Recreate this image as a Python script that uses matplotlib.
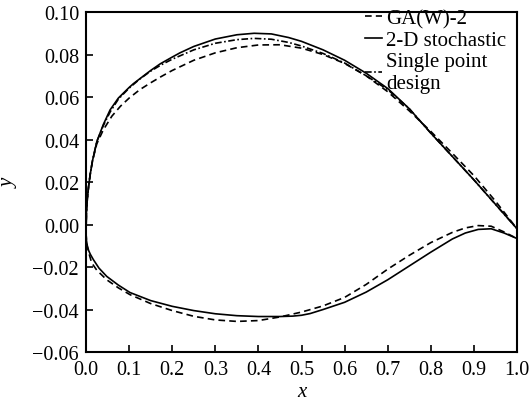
import numpy as np
import matplotlib as mpl
mpl.use('Agg')
import matplotlib.pyplot as plt

plt.rcParams['font.family'] = ['Liberation Serif', 'DejaVu Serif']

#upper / lower surface coordinates
aX_sto_up = [0.0, 0.001, 0.003, 0.006, 0.01, 0.015, 0.025, 0.04, 0.056, 0.075, 0.1, 0.11, 0.15,
             0.172, 0.2, 0.218, 0.25, 0.3, 0.35, 0.39, 0.43, 0.47, 0.5, 0.55, 0.6, 0.65, 0.7,
             0.75, 0.8, 0.85, 0.9, 0.95, 1.0]
aY_sto_up = [-0.004, 0.006, 0.012, 0.018, 0.024, 0.030, 0.039, 0.047, 0.054, 0.0595, 0.0645, 0.0663,
             0.0725, 0.0756, 0.0788, 0.0808, 0.0838, 0.0873, 0.0893, 0.0900, 0.0897, 0.0880, 0.0862,
             0.0822, 0.0773, 0.0712, 0.0640, 0.0545, 0.0430, 0.0320, 0.0210, 0.0095, -0.002]
aX_sto_lo = [0.0, 0.001, 0.003, 0.006, 0.01, 0.017, 0.03, 0.048, 0.075, 0.102, 0.15, 0.2, 0.25,
             0.3, 0.35, 0.4, 0.45, 0.48, 0.5, 0.52, 0.55, 0.6, 0.65, 0.7, 0.75, 0.8, 0.85, 0.88,
             0.91, 0.94, 0.97, 1.0]
aY_sto_lo = [-0.004, -0.0075, -0.010, -0.0122, -0.0140, -0.0165, -0.0205, -0.0244, -0.0285, -0.0320,
             -0.0358, -0.0385, -0.0405, -0.0420, -0.0429, -0.0433, -0.0433, -0.0431, -0.0427, -0.0419,
             -0.0400, -0.0366, -0.0318, -0.0260, -0.0195, -0.0130, -0.0068, -0.0040, -0.0023, -0.0020,
             -0.0040, -0.0066]

aX_ga_up = [0.0, 0.001, 0.003, 0.006, 0.01, 0.015, 0.025, 0.04, 0.06, 0.08, 0.1, 0.125, 0.15, 0.175,
            0.2, 0.25, 0.3, 0.35, 0.4, 0.45, 0.5, 0.55, 0.6, 0.65, 0.7, 0.75, 0.8, 0.85, 0.9, 0.95, 1.0]
aY_ga_up = [-0.004, 0.006, 0.012, 0.018, 0.024, 0.030, 0.038, 0.0445, 0.051, 0.0557, 0.0595, 0.0635,
            0.0667, 0.0697, 0.0725, 0.0773, 0.0808, 0.0832, 0.0845, 0.0846, 0.0830, 0.0800, 0.0758,
            0.0700, 0.0625, 0.0535, 0.0438, 0.0335, 0.0230, 0.0110, -0.002]
aX_ga_lo = [0.0, 0.001, 0.003, 0.006, 0.013, 0.025, 0.048, 0.075, 0.102, 0.15, 0.2, 0.25, 0.3, 0.35,
            0.4, 0.45, 0.5, 0.55, 0.6, 0.65, 0.7, 0.75, 0.8, 0.85, 0.88, 0.91, 0.94, 0.97, 1.0]
aY_ga_lo = [-0.004, -0.0075, -0.0105, -0.013, -0.018, -0.0215, -0.026, -0.0298, -0.033, -0.0372,
            -0.0405, -0.0432, -0.0449, -0.0456, -0.0452, -0.0435, -0.0412, -0.0383, -0.0343, -0.0282,
            -0.0210, -0.0145, -0.0085, -0.0037, -0.0016, -0.0005, -0.0008, -0.0035, -0.0066]

aX_sp_up = [0.0, 0.001, 0.003, 0.006, 0.01, 0.015, 0.025, 0.04, 0.056, 0.075, 0.1, 0.125, 0.15, 0.175,
            0.2, 0.25, 0.3, 0.35, 0.39, 0.43, 0.47, 0.5, 0.55, 0.6, 0.65, 0.7, 0.75, 0.8, 0.85, 0.9,
            0.95, 1.0]
aY_sp_up = [-0.004, 0.006, 0.012, 0.018, 0.024, 0.030, 0.039, 0.0465, 0.0530, 0.0590, 0.0642, 0.0685,
            0.0722, 0.0752, 0.0778, 0.0822, 0.0853, 0.0870, 0.0876, 0.0872, 0.0857, 0.0840, 0.0805,
            0.0760, 0.0700, 0.0635, 0.0545, 0.0430, 0.0320, 0.0210, 0.0095, -0.002]

aXtick = [0.0, 0.1, 0.2, 0.3, 0.4, 0.5, 0.6, 0.7, 0.8, 0.9, 1.0]
aYtick = [-0.06, -0.04, -0.02, 0.00, 0.02, 0.04, 0.06, 0.08, 0.10]
aLabel = ['GA(W)-2', '2-D stochastic', 'Single point\ndesign']

fig = plt.figure(figsize=(5.31, 4.06), dpi=100)
ax = fig.add_axes([0.162, 0.1305, 0.8117, 0.8374])

dLw = 1.2
ax.plot(aX_ga_up, aY_ga_up, color='black', linestyle=(0, (4, 2.5)), lw=dLw, label=aLabel[0])
ax.plot(aX_ga_lo, aY_ga_lo, color='black', linestyle=(0, (4, 2.5)), lw=dLw)
ax.plot(aX_sto_up, aY_sto_up, color='black', linestyle='solid', lw=dLw, label=aLabel[1])
ax.plot(aX_sto_lo, aY_sto_lo, color='black', linestyle='solid', lw=dLw)
ax.plot(aX_sp_up, aY_sp_up, color='black', linestyle=(0, (4, 1.5, 1, 1.5)), lw=dLw, label=aLabel[2])

ax.set_xlim(0, 1.0)
ax.set_ylim(-0.06, 0.10)
ax.set_xticks(aXtick)
ax.set_yticks(aYtick)
ax.set_xticklabels(['%.1f' % v for v in aXtick])
ax.set_yticklabels([('%.2f' % v).replace('-', '\u2212') for v in aYtick])
ax.tick_params(direction='in', length=5, width=1.2, labelsize=14.5, top=False, right=False)
ax.tick_params(axis='x', pad=6)
ax.tick_params(axis='y', pad=5)
for s in ax.spines.values():
    s.set_linewidth(1.5)

ax.set_xlabel('x', fontsize=15, style='italic', labelpad=2)
ax.set_ylabel('y', fontsize=15, style='italic', labelpad=10)

ax.legend(loc='upper right', frameon=False, fontsize=15, handlelength=0.8, handletextpad=0.2,
          labelspacing=0.1, borderaxespad=0.0, borderpad=0.0, bbox_to_anchor=(0.975, 1.01))

plt.savefig('out.png', dpi=100)
plt.close('all')
